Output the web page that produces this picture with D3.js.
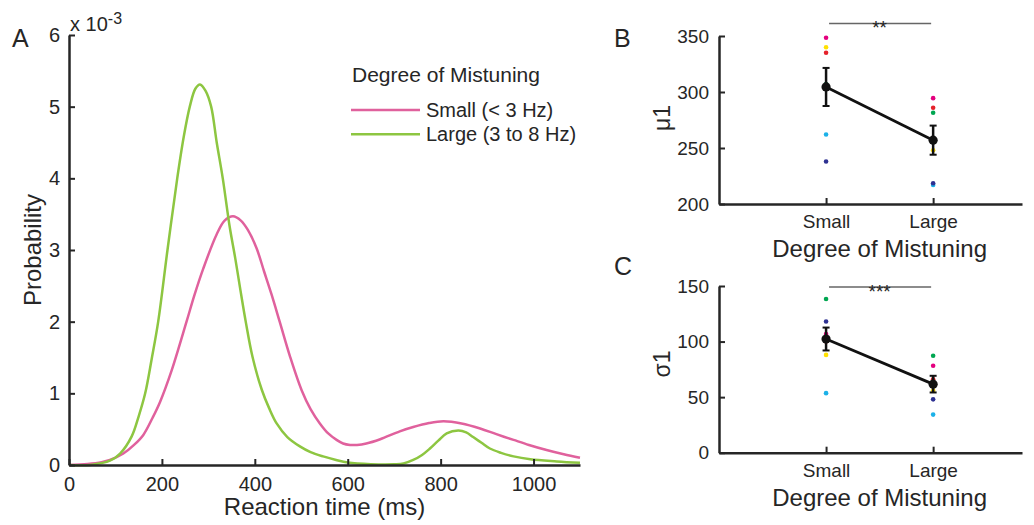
<!DOCTYPE html>
<html>
<head>
<meta charset="utf-8">
<script src="https://cdn.jsdelivr.net/npm/d3@7"></script>
<style>
  body { margin: 0; background: #fff; }
  text { font-family: "Liberation Sans", Arial, Helvetica, sans-serif; fill: #262626; }
</style>
</head>
<body>
<svg id="fig" width="1034" height="525"></svg>
<script>
// panel A - fitted reaction time distributions, probability in units of 1e-3
var rtSmall   = [0, 40, 70, 88, 117, 140, 160, 180, 196, 221, 253, 270, 289, 318, 335, 353, 370, 385, 404, 420, 436, 454, 476, 501, 520, 540, 558, 576, 590, 605, 620, 640, 670, 712, 741, 775, 806, 845, 885, 920, 957, 990, 1028, 1065, 1100];
var probSmall = [0, 0.015, 0.04, 0.07, 0.16, 0.28, 0.42, 0.66, 0.88, 1.32, 2.0, 2.37, 2.74, 3.22, 3.41, 3.47, 3.41, 3.28, 3.02, 2.70, 2.38, 1.99, 1.51, 1.04, 0.78, 0.58, 0.44, 0.35, 0.30, 0.28, 0.28, 0.30, 0.36, 0.47, 0.53, 0.585, 0.61, 0.58, 0.51, 0.43, 0.35, 0.28, 0.21, 0.15, 0.10];
var rtLarge   = [0, 50, 88, 110, 135, 150, 164, 178, 192, 212, 233, 247, 260, 272, 282, 294, 306, 318, 331, 346, 358, 369, 381, 395, 415, 431, 447, 470, 497, 520, 547, 575, 600, 650, 700, 720, 741, 760, 777, 795, 813, 838, 855, 870, 888, 906, 930, 957, 993, 1050, 1100];
var probLarge = [0, 0.005, 0.06, 0.16, 0.40, 0.68, 1.0, 1.48, 2.0, 3.0, 4.0, 4.58, 5.0, 5.25, 5.31, 5.22, 5.0, 4.5, 4.0, 3.32, 2.88, 2.44, 1.98, 1.51, 1.05, 0.79, 0.58, 0.39, 0.26, 0.18, 0.12, 0.07, 0.035, 0.012, 0.01, 0.02, 0.07, 0.14, 0.23, 0.34, 0.44, 0.48, 0.455, 0.39, 0.31, 0.23, 0.17, 0.12, 0.08, 0.05, 0.03];
var rtTicks = [0, 200, 400, 600, 800, 1000];
var probTicks = [0, 1, 2, 3, 4, 5, 6];
var seriesNames = ["Small (< 3 Hz)", "Large (3 to 8 Hz)"];

// panels B and C - per subject estimates (one colour per subject)
var categories = ["Small", "Large"];
var subjectColors = ["#e4007f", "#ffe100", "#e5222b", "#00a651", "#1cb1e8", "#2e3192"];
var mu1Small = [348.5, 340, 335, 307, 262, 238];
var mu1Large = [294.5, 248, 286, 281.5, 217, 218.5];
var mu1Mean = [304.5, 257];
var mu1Sem = [17, 13];
var mu1Ticks = [200, 250, 300, 350];
var sigma1Small = [106.8, 88, 100, 138.3, 53.6, 118];
var sigma1Large = [78.2, 56, 66, 87.2, 34.3, 48];
var sigma1Mean = [102.3, 61.7];
var sigma1Sem = [10.3, 7.5];
var sigma1Ticks = [0, 50, 100, 150];

var pink = "#e0619d", green = "#8dc641", axisColor = "#262626";

var svg = d3.select("#fig");

function styleAxis(g, size) {
    g.attr("font-size", size).attr("font-family", null);
    g.select(".domain").attr("stroke", axisColor).attr("stroke-width", 2.5);
    g.selectAll(".tick line").attr("stroke", axisColor).attr("stroke-width", 2);
    g.selectAll(".tick text").attr("fill", axisColor);
}

// ---------- panel A ----------
var x = d3.scaleLinear().domain([0, 1100]).range([69, 580]);
var y = d3.scaleLinear().domain([0, 6]).range([465, 35]);

var line = d3.line()
    .x(function(d) { return x(d[0]); })
    .y(function(d) { return y(d[1]); })
    .curve(d3.curveCatmullRom.alpha(0.5));

svg.append("path")
    .datum(d3.zip(rtSmall, probSmall))
    .attr("fill", "none").attr("stroke", pink).attr("stroke-width", 2.5)
    .attr("d", line);
svg.append("path")
    .datum(d3.zip(rtLarge, probLarge))
    .attr("fill", "none").attr("stroke", green).attr("stroke-width", 2.5)
    .attr("d", line);

svg.append("g")
    .attr("transform", "translate(0," + y(0) + ")")
    .call(d3.axisBottom(x).tickValues(rtTicks).tickFormat(d3.format("d"))
        .tickSize(-6).tickSizeOuter(0).tickPadding(12))
    .call(styleAxis, 20);
svg.append("g")
    .attr("transform", "translate(" + x(0) + ",0)")
    .call(d3.axisLeft(y).tickValues(probTicks).tickFormat(d3.format("d"))
        .tickSize(-6).tickSizeOuter(0).tickPadding(9))
    .call(styleAxis, 20);

svg.append("text").attr("x", 12).attr("y", 47).attr("font-size", 25).text("A");
var expo = svg.append("text").attr("x", 70).attr("y", 31).attr("font-size", 20);
expo.append("tspan").text("x 10");
expo.append("tspan").attr("dy", -7).attr("font-size", 16).text("-3");

svg.append("text")
    .attr("x", (x(0) + x(1100)) / 2).attr("y", 515)
    .attr("text-anchor", "middle").attr("font-size", 24)
    .text("Reaction time (ms)");
svg.append("text")
    .attr("transform", "translate(41," + y(3) + ") rotate(-90)")
    .attr("text-anchor", "middle").attr("font-size", 24)
    .text("Probability");

// legend
svg.append("text").attr("x", 352).attr("y", 82).attr("font-size", 21).text("Degree of Mistuning");
[pink, green].forEach(function(c, i) {
    var ly = 110 + i * 24.3;
    svg.append("line").attr("x1", 351).attr("x2", 420).attr("y1", ly).attr("y2", ly)
        .attr("stroke", c).attr("stroke-width", 2.5);
    svg.append("text").attr("x", 426).attr("y", ly + 7).attr("font-size", 20).text(seriesNames[i]);
});

// ---------- panels B and C ----------
var xc = d3.scaleLinear().domain([0, 2.83]).range([719, 1022]);

function drawPanel(opts) {
    var ys = d3.scaleLinear().domain(opts.domain).range(opts.range);
    var g = svg.append("g");

    // subject dots
    [opts.small, opts.large].forEach(function(vals, ci) {
        g.selectAll(null)
            .data(vals)
            .enter().append("circle")
            .attr("cx", xc(ci + 1))
            .attr("cy", function(d) { return ys(d); })
            .attr("r", 2.3)
            .attr("fill", function(d, i) { return subjectColors[i]; });
    });

    // mean line
    g.append("path")
        .datum(opts.mean)
        .attr("fill", "none").attr("stroke", "#111").attr("stroke-width", 2.8)
        .attr("d", d3.line().x(function(d, i) { return xc(i + 1); }).y(function(d) { return ys(d); }));

    // error bars
    opts.mean.forEach(function(m, i) {
        var cx = xc(i + 1), lo = ys(m - opts.sem[i]), hi = ys(m + opts.sem[i]);
        g.append("line").attr("x1", cx).attr("x2", cx).attr("y1", lo).attr("y2", hi)
            .attr("stroke", "#111").attr("stroke-width", 2.5);
        [lo, hi].forEach(function(v) {
            g.append("line").attr("x1", cx - 3.5).attr("x2", cx + 3.5).attr("y1", v).attr("y2", v)
                .attr("stroke", "#111").attr("stroke-width", 2);
        });
        g.append("circle").attr("cx", cx).attr("cy", ys(m)).attr("r", 4.6).attr("fill", "#111");
    });

    // axes
    svg.append("g")
        .attr("transform", "translate(0," + ys(opts.domain[0]) + ")")
        .call(d3.axisBottom(xc).tickValues([1, 2])
            .tickFormat(function(d) { return categories[d - 1]; })
            .tickSize(-6).tickSizeOuter(0).tickPadding(11))
        .call(styleAxis, 19);
    svg.append("g")
        .attr("transform", "translate(" + xc(0) + ",0)")
        .call(d3.axisLeft(ys).tickValues(opts.ticks).tickSize(-6).tickSizeOuter(0).tickPadding(10))
        .call(styleAxis, 19);

    svg.append("text")
        .attr("x", xc(1.5)).attr("y", ys(opts.domain[0]) + 53)
        .attr("text-anchor", "middle").attr("font-size", 24)
        .text("Degree of Mistuning");
    svg.append("text")
        .attr("transform", "translate(670," + opts.labelY + ") rotate(-90)")
        .attr("text-anchor", "middle").attr("font-size", 23)
        .text(opts.label);
    svg.append("text").attr("x", 614).attr("y", opts.letterY).attr("font-size", 25).text(opts.letter);

    // significance bar
    svg.append("line")
        .attr("x1", xc(1) + 3).attr("x2", xc(2) - 2)
        .attr("y1", opts.sigY).attr("y2", opts.sigY)
        .attr("stroke", "#666").attr("stroke-width", 1.5);
    svg.append("text")
        .attr("x", xc(1.5)).attr("y", opts.sigY + 10.5)
        .attr("text-anchor", "middle").attr("font-size", 19)
        .text(opts.sig);
}

drawPanel({
    domain: [200, 350], range: [204, 36], ticks: mu1Ticks,
    small: mu1Small, large: mu1Large, mean: mu1Mean, sem: mu1Sem,
    label: "\u03bc1", labelY: 118, letter: "B", letterY: 47,
    sigY: 23.5, sig: "**"
});
drawPanel({
    domain: [0, 150], range: [452.7, 286], ticks: sigma1Ticks,
    small: sigma1Small, large: sigma1Large, mean: sigma1Mean, sem: sigma1Sem,
    label: "\u03c31", labelY: 364, letter: "C", letterY: 275,
    sigY: 287, sig: "***"
});
</script>
</body>
</html>
